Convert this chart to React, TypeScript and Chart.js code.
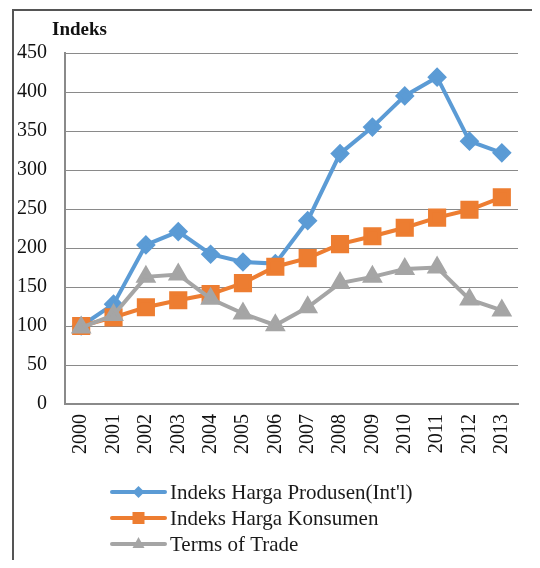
import React, { useEffect, useRef } from "react";
import { Chart, registerables } from "chart.js";

Chart.register(...registerables);

const years = ["2000","2001","2002","2003","2004","2005","2006","2007","2008","2009","2010","2011","2012","2013"];
const produsen = [100, 128, 204, 221, 192, 182, 180, 235, 321, 355, 395, 419, 337, 322];
const konsumen = [100, 111, 124, 133, 141, 155, 176, 187, 205, 215, 226, 239, 249, 265];
const termsOfTrade = [98, 114, 163, 166, 135, 116, 101, 124, 155, 163, 173, 175, 134, 120];
const seriesNames = ["Indeks Harga Produsen(Int'l)", "Indeks Harga Konsumen", "Terms of Trade"];
const yTitle = "Indeks";

const FONT = "'Liberation Serif', 'Times New Roman', serif";

const framePlugin = {
  id: "frame",
  beforeDraw(chart: any) {
    const ctx = chart.ctx;
    ctx.save();
    ctx.fillStyle = "#fff";
    ctx.fillRect(0, 0, chart.width, chart.height);
    ctx.strokeStyle = "#555";
    ctx.lineWidth = 2;
    ctx.beginPath();
    ctx.moveTo(13, chart.height);
    ctx.lineTo(13, 10);
    ctx.lineTo(chart.width, 10);
    ctx.stroke();
    ctx.restore();
  },
};

const legendPlugin = {
  id: "customLegend",
  afterDraw(chart: any) {
    const ctx = chart.ctx;
    const x0 = 112, x1 = 165, tx = 170;
    const rows = [492, 518, 544];
    ctx.save();
    chart.data.datasets.forEach((ds: any, i: number) => {
      const y = rows[i];
      ctx.strokeStyle = ds.borderColor;
      ctx.lineWidth = 4;
      ctx.lineCap = "round";
      ctx.beginPath();
      ctx.moveTo(x0, y);
      ctx.lineTo(x1, y);
      ctx.stroke();
      ctx.fillStyle = ds.pointBackgroundColor;
      const cx = (x0 + x1) / 2;
      ctx.beginPath();
      if (ds.pointStyle === "rectRot") {
        ctx.moveTo(cx, y - 6); ctx.lineTo(cx + 6, y); ctx.lineTo(cx, y + 6); ctx.lineTo(cx - 6, y);
      } else if (ds.pointStyle === "rect") {
        ctx.rect(cx - 6, y - 6, 12, 12);
      } else {
        ctx.moveTo(cx, y - 7); ctx.lineTo(cx + 6, y + 4); ctx.lineTo(cx - 6, y + 4);
      }
      ctx.closePath();
      ctx.fill();
      ctx.fillStyle = "#1a1a1a";
      ctx.font = `21px ${FONT}`;
      ctx.textBaseline = "middle";
      ctx.textAlign = "left";
      ctx.fillText(ds.label, tx, y + 1);
    });
    ctx.font = `bold 19px ${FONT}`;
    ctx.fillStyle = "#111";
    ctx.textBaseline = "alphabetic";
    ctx.fillText(yTitle, 52, 35);
    ctx.restore();
  },
};

export default function App() {
  const ref = useRef<HTMLCanvasElement | null>(null);
  useEffect(() => {
    if (!ref.current) return;
    const chart = new Chart(ref.current, {
      type: "line",
      data: {
        labels: years,
        datasets: [
          {
            label: seriesNames[0], data: produsen, borderColor: "#5B9BD5", backgroundColor: "#5B9BD5",
            pointBackgroundColor: "#5B9BD5", pointBorderColor: "#5B9BD5", pointStyle: "rectRot",
            pointRadius: 7, borderWidth: 4, order: 2,
          },
          {
            label: seriesNames[1], data: konsumen, borderColor: "#ED7D31", backgroundColor: "#ED7D31",
            pointBackgroundColor: "#ED7D31", pointBorderColor: "#ED7D31", pointStyle: "rect",
            pointRadius: 10, borderWidth: 4, order: 1,
          },
          {
            label: seriesNames[2], data: termsOfTrade, borderColor: "#A5A5A5", backgroundColor: "#A5A5A5",
            pointBackgroundColor: "#A5A5A5", pointBorderColor: "#A5A5A5", pointStyle: "triangle",
            pointRadius: 8, borderWidth: 4, order: 0,
          },
        ],
      },
      options: {
        animation: false,
        responsive: false,
        maintainAspectRatio: false,
        layout: { padding: { top: 53, right: 22, left: 0, bottom: 0 } },
        plugins: { legend: { display: false }, tooltip: { enabled: false } },
        scales: {
          x: {
            offset: true,
            grid: { display: false, drawTicks: false },
            border: { display: true, color: "#8a8a8a", width: 2 },
            ticks: {
              color: "#111", font: { family: FONT, size: 20 }, minRotation: 90, maxRotation: 90,
              padding: 10, autoSkip: false,
            },
            afterFit: (s: any) => { s.height = 164; },
          },
          y: {
            min: 0, max: 450,
            grid: { color: "#8a8a8a", lineWidth: 1, drawTicks: false },
            border: { display: true, color: "#8a8a8a", width: 2 },
            ticks: { stepSize: 50, color: "#111", font: { family: FONT, size: 20 }, padding: 18 },
            afterFit: (s: any) => { s.width = 65; },
          },
        },
      },
      plugins: [framePlugin, legendPlugin],
    });
    return () => chart.destroy();
  }, []);

  return (
    <div style={{ position: "relative", width: 540, height: 568, margin: -8, overflow: "hidden" }}>
      <canvas ref={ref} width={540} height={568} style={{ display: "block" }} />
    </div>
  );
}
